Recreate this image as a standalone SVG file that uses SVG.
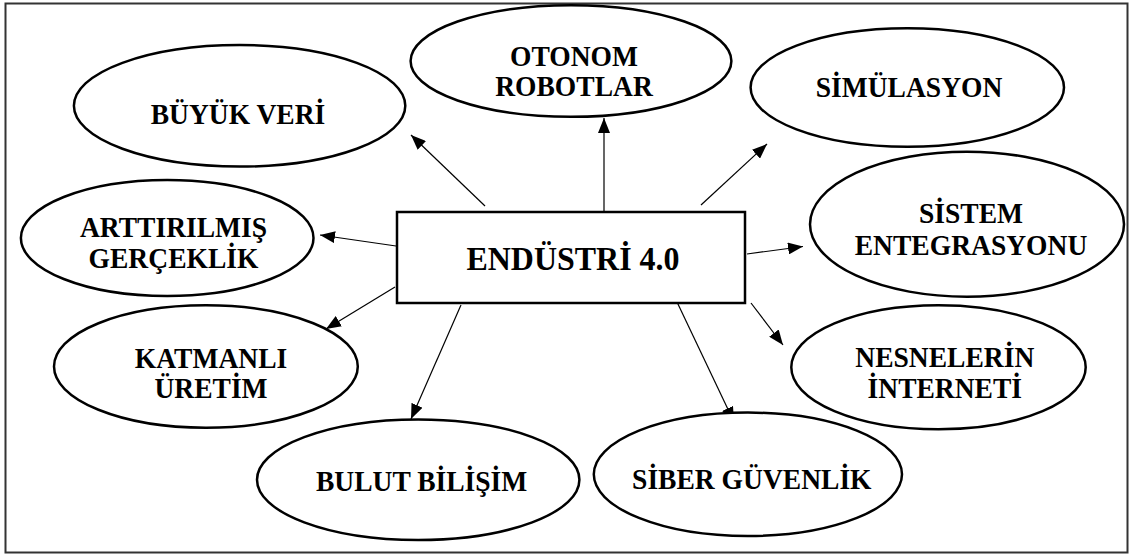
<svg xmlns="http://www.w3.org/2000/svg" width="1130" height="556" viewBox="0 0 1130 556">
<style>
.bg{fill:#fff}
.frame{fill:none;stroke:#333;stroke-width:2}
.node{fill:#fff;stroke:#000;stroke-width:2.5}
.t{font-family:"Liberation Serif","Times New Roman",serif;font-weight:bold;font-size:29px;fill:#000;text-anchor:middle}
.big{font-size:34px}
.conn line{stroke:#000;stroke-width:1.2;marker-end:url(#ah)}
</style>
<defs>
<marker id="ah" markerUnits="userSpaceOnUse" markerWidth="16" markerHeight="12" refX="15" refY="6" orient="auto">
<path d="M0,0 L15,6 L0,12 z" fill="#000"/>
</marker>
</defs>
<rect class="bg" x="0" y="0" width="1130" height="556"/>
<rect class="frame" x="5.5" y="3.5" width="1122" height="549"/>
<g id="connectors" class="conn">
<line x1="485" y1="206" x2="411" y2="135"/>
<line x1="604" y1="212" x2="604" y2="118"/>
<line x1="701" y1="205" x2="767" y2="144"/>
<line x1="747" y1="254" x2="803" y2="246.5"/>
<line x1="396" y1="246" x2="320" y2="235"/>
<line x1="395" y1="287" x2="326" y2="329"/>
<line x1="461" y1="305" x2="411" y2="419"/>
<line x1="677" y1="302" x2="734" y2="422"/>
<line x1="751" y1="303" x2="783" y2="345"/>
</g>
<g id="n-center">
<rect class="node" x="397" y="212" width="348" height="91"/>
<text class="t big" transform="translate(573 270) scale(0.94 1)">ENDÜSTRİ 4.0</text>
</g>
<g id="n-buyukveri">
<ellipse class="node" cx="239.6" cy="105.8" rx="165.7" ry="60.8"/>
<text class="t" transform="translate(238 124) scale(0.95 1)">BÜYÜK VERİ</text>
</g>
<g id="n-otonom">
<ellipse class="node" cx="571" cy="61" rx="160.4" ry="55.8"/>
<text class="t" transform="translate(574 66) scale(0.95 1)">OTONOM</text>
<text class="t" transform="translate(574 96) scale(0.95 1)">ROBOTLAR</text>
</g>
<g id="n-simulasyon">
<ellipse class="node" cx="907.3" cy="87.5" rx="156.7" ry="59.2"/>
<text class="t" transform="translate(909 97) scale(0.95 1)">SİMÜLASYON</text>
</g>
<g id="n-sistem">
<ellipse class="node" cx="967" cy="224.2" rx="157" ry="72.5"/>
<text class="t" transform="translate(971 223) scale(0.95 1)">SİSTEM</text>
<text class="t" transform="translate(971 255) scale(0.95 1)">ENTEGRASYONU</text>
</g>
<g id="n-arttirilmis">
<ellipse class="node" cx="167.2" cy="238" rx="146.3" ry="58"/>
<text class="t" transform="translate(173.5 237) scale(0.95 1)">ARTTIRILMIŞ</text>
<text class="t" transform="translate(173.5 268) scale(0.95 1)">GERÇEKLİK</text>
</g>
<g id="n-katmanli">
<ellipse class="node" cx="205.9" cy="366.5" rx="151.9" ry="61.2"/>
<text class="t" transform="translate(211 367.5) scale(0.95 1)">KATMANLI</text>
<text class="t" transform="translate(211 398) scale(0.95 1)">ÜRETİM</text>
</g>
<g id="n-bulut">
<ellipse class="node" cx="418.2" cy="479.7" rx="161.2" ry="60.3"/>
<text class="t" transform="translate(421.6 491) scale(0.95 1)">BULUT BİLİŞİM</text>
</g>
<g id="n-siber">
<ellipse class="node" cx="747.9" cy="474.3" rx="154.1" ry="61.7"/>
<text class="t" transform="translate(751.8 489) scale(0.95 1)">SİBER GÜVENLİK</text>
</g>
<g id="n-nesneler">
<ellipse class="node" cx="938.5" cy="367.3" rx="147.2" ry="62"/>
<text class="t" transform="translate(944.8 367) scale(0.95 1)">NESNELERİN</text>
<text class="t" transform="translate(944.8 398) scale(0.95 1)">İNTERNETİ</text>
</g>
</svg>
